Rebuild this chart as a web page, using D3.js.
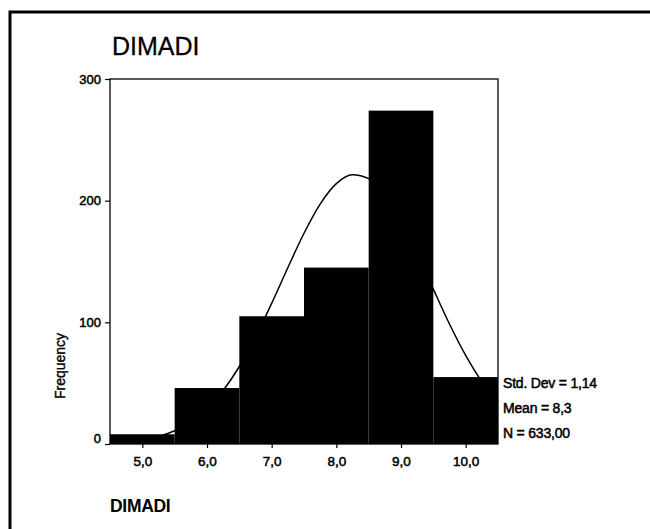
<!DOCTYPE html>
<html>
<head>
<meta charset="utf-8">
<script src="https://cdn.jsdelivr.net/npm/d3@7"></script>
<style>
  html, body { margin: 0; padding: 0; background: #fff; overflow: hidden; }
  svg { display: block; }
  text { font-family: "Liberation Sans", Arial, sans-serif; fill: #000; }
</style>
</head>
<body>
<svg id="chart" width="650" height="529"></svg>
<script>
// ---- data ----
const titleText = "DIMADI";
const xLabel = "DIMADI";
const yLabel = "Frequency";
const binCenters = [5, 6, 7, 8, 9, 10];
const frequencies = [8, 46, 105, 145, 274, 55];
const xTickValues = [5, 6, 7, 8, 9, 10];
const yTickValues = [0, 100, 200, 300];
const curveX = [4.5, 4.75, 5, 5.25, 5.5, 5.75, 6, 6.25, 6.5, 6.75, 7, 7.25, 7.5, 7.75, 8, 8.25, 8.5, 8.75, 9, 9.25, 9.5, 9.75, 10, 10.25, 10.5];
const curveY = [0.9, 1.7, 3.4, 6.2, 10.9, 18.1, 28.9, 44.0, 63.7, 87.9, 115.6, 144.9, 173.2, 197.2, 214.0, 221.3, 218.1, 204.9, 183.4, 156.5, 127.3, 98.6, 72.8, 51.3, 34.4];
const statsLines = ["Std. Dev = 1,14", "Mean = 8,3", "N = 633,00"];

// ---- layout ----
(function () {
const svg = d3.select("#chart");
const pLeft = 110, pRight = 498, pTop = 79, pBottom = 444;
const x = d3.scaleLinear().domain([4.5, 10.5]).range([pLeft, pRight]);
const y = d3.scaleLinear().domain([0, 300]).range([pBottom, pTop]);

// outer frame (left and top edges only visible)
svg.append("path")
  .attr("d", "M10,540 L10,12 L660,12")
  .attr("fill", "none").attr("stroke", "#000").attr("stroke-width", 3);

// title
svg.append("text").attr("x", 112).attr("y", 55)
  .attr("font-size", 25).attr("stroke", "#000").attr("stroke-width", 0.3)
  .text(titleText);

// bars
svg.append("g").selectAll("rect").data(binCenters).join("rect")
  .attr("x", d => x(d - 0.5))
  .attr("width", d => x(d + 0.5) - x(d - 0.5))
  .attr("y", (d, i) => y(frequencies[i]))
  .attr("height", (d, i) => y(0) - y(frequencies[i]))
  .attr("fill", "#000");

// normal curve
const line = d3.line().x(d => x(d[0])).y(d => y(d[1])).curve(d3.curveMonotoneX);
svg.append("path")
  .datum(curveX.map((v, i) => [v, curveY[i]]))
  .attr("d", line)
  .attr("fill", "none").attr("stroke", "#000").attr("stroke-width", 1.5);

// plot box
svg.append("rect").attr("x", pLeft).attr("y", pTop)
  .attr("width", pRight - pLeft).attr("height", pBottom - pTop)
  .attr("fill", "none").attr("stroke", "#000").attr("stroke-width", 1.3);

// y axis
const yAxis = svg.append("g").attr("transform", `translate(${pLeft},0)`)
  .call(d3.axisLeft(y).tickValues(yTickValues).tickSize(5).tickPadding(4).tickFormat(d3.format("d")));
yAxis.select(".domain").remove();
yAxis.selectAll("line").attr("stroke", "#000").attr("stroke-width", 1.2);
yAxis.selectAll("text").attr("font-size", 13).attr("font-weight", "normal")
  .attr("stroke", "#000").attr("stroke-width", 0.5)
  .attr("font-family", "Liberation Sans, Arial, sans-serif");
yAxis.selectAll(".tick").filter(d => d === 0).select("text").attr("dy", "-0.15em");

// x axis
const xAxis = svg.append("g").attr("transform", `translate(0,${pBottom})`)
  .call(d3.axisBottom(x).tickValues(xTickValues).tickSize(4).tickPadding(8)
    .tickFormat(d => d.toFixed(1).replace(".", ",")));
xAxis.select(".domain").remove();
xAxis.selectAll("line").attr("stroke", "#000").attr("stroke-width", 1.2);
xAxis.selectAll("text").attr("font-size", 13.5).attr("font-weight", "normal")
  .attr("stroke", "#000").attr("stroke-width", 0.5)
  .attr("font-family", "Liberation Sans, Arial, sans-serif");

// axis titles
svg.append("text")
  .attr("transform", "translate(65,366) rotate(-90)")
  .attr("text-anchor", "middle").attr("font-size", 14)
  .attr("stroke", "#000").attr("stroke-width", 0.4)
  .text(yLabel);

svg.append("text").attr("x", 110).attr("y", 512)
  .attr("font-size", 17.5).attr("font-weight", "bold")
  .attr("letter-spacing", -0.3).text(xLabel);

// stats
svg.append("g").selectAll("text").data(statsLines).join("text")
  .attr("x", 503).attr("y", (d, i) => 388 + i * 25)
  .attr("font-size", 14).attr("font-weight", "normal")
  .attr("stroke", "#000").attr("stroke-width", 0.5)
  .attr("letter-spacing", -0.2)
  .text(d => d);
})();
</script>
</body>
</html>
